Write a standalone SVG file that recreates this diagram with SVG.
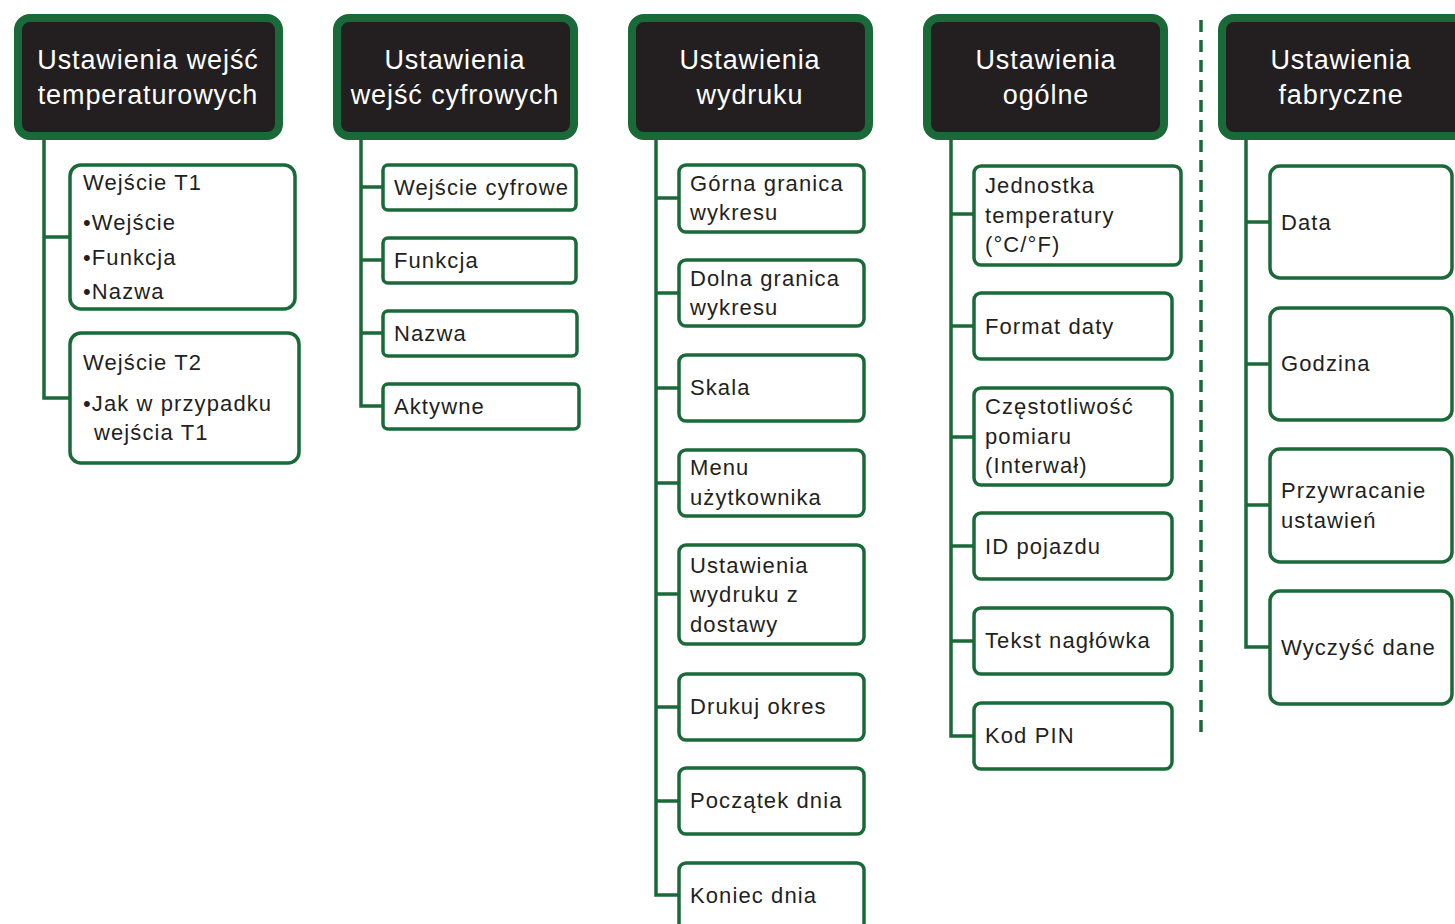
<svg xmlns="http://www.w3.org/2000/svg" width="1455" height="924" viewBox="0 0 1455 924">
<style>
.hd{fill:#231f20;stroke:#1a6a39;stroke-width:8}
.bx{fill:#fff;stroke:#1a6a39;stroke-width:3.5}
.ln{stroke:#1a6a39;stroke-width:3.5;fill:none}
.ht{font-family:"Liberation Sans",Arial,sans-serif;font-size:27px;fill:#fff;text-anchor:middle;letter-spacing:0.9px}
.t{font-family:"Liberation Sans",Arial,sans-serif;font-size:22px;fill:#231f20;letter-spacing:1.1px}
</style>
<rect width="1455" height="924" fill="#fff"/>
<g id="connectors">
<path class="ln" d="M44 138V398H70M44 237H70"/>
<path class="ln" d="M361 138V406H383M361 187H383M361 260H383M361 333H383"/>
<path class="ln" d="M656 138V895H679M656 198H679M656 293H679M656 388H679M656 483H679M656 594H679M656 707H679M656 801H679"/>
<path class="ln" d="M951 138V736H974M951 214H974M951 326H974M951 437H974M951 546H974M951 641H974"/>
<path class="ln" d="M1246 138V647H1270M1246 222H1270M1246 364H1270M1246 505H1270"/>
<path class="ln" d="M1201 20V736" stroke-dasharray="12 8"/>
</g>
<g id="h1"><rect class="hd" x="18" y="18" width="261" height="118" rx="12"/><text class="ht" x="148" y="69">Ustawienia wejść</text><text class="ht" x="148" y="104">temperaturowych</text></g>
<g id="h2"><rect class="hd" x="337" y="18" width="237" height="118" rx="12"/><text class="ht" x="455" y="69">Ustawienia</text><text class="ht" x="455" y="104">wejść cyfrowych</text></g>
<g id="h3"><rect class="hd" x="632" y="18" width="237" height="118" rx="12"/><text class="ht" x="750" y="69">Ustawienia</text><text class="ht" x="750" y="104">wydruku</text></g>
<g id="h4"><rect class="hd" x="927" y="18" width="237" height="118" rx="12"/><text class="ht" x="1046" y="69">Ustawienia</text><text class="ht" x="1046" y="104">ogólne</text></g>
<g id="h5"><rect class="hd" x="1222" y="18" width="250" height="118" rx="12"/><text class="ht" x="1341" y="69">Ustawienia</text><text class="ht" x="1341" y="104">fabryczne</text></g>

<g id="c1a"><rect class="bx" x="70" y="165" width="225" height="144" rx="11"/><text class="t" x="83" y="190">Wejście T1</text><text class="t" x="83" y="230">•Wejście</text><text class="t" x="83" y="265">•Funkcja</text><text class="t" x="83" y="299">•Nazwa</text></g>
<g id="c1b"><rect class="bx" x="70" y="333" width="229" height="130" rx="11"/><text class="t" x="83" y="370">Wejście T2</text><text class="t" x="83" y="411">•Jak w przypadku</text><text class="t" x="94" y="440">wejścia T1</text></g>

<g id="c2a"><rect class="bx" x="383" y="165" width="193" height="45" rx="5"/><text class="t" x="394" y="195">Wejście cyfrowe</text></g>
<g id="c2b"><rect class="bx" x="383" y="238" width="193" height="45" rx="5"/><text class="t" x="394" y="268">Funkcja</text></g>
<g id="c2c"><rect class="bx" x="383" y="311" width="194" height="45" rx="5"/><text class="t" x="394" y="341">Nazwa</text></g>
<g id="c2d"><rect class="bx" x="383" y="384" width="196" height="45" rx="5"/><text class="t" x="394" y="414">Aktywne</text></g>

<g id="c3a"><rect class="bx" x="679" y="165" width="185" height="67" rx="7"/><text class="t" x="690" y="191">Górna granica</text><text class="t" x="690" y="220">wykresu</text></g>
<g id="c3b"><rect class="bx" x="679" y="260" width="185" height="66" rx="7"/><text class="t" x="690" y="286">Dolna granica</text><text class="t" x="690" y="315">wykresu</text></g>
<g id="c3c"><rect class="bx" x="679" y="355" width="185" height="66" rx="7"/><text class="t" x="690" y="395">Skala</text></g>
<g id="c3d"><rect class="bx" x="679" y="450" width="185" height="66" rx="7"/><text class="t" x="690" y="475">Menu</text><text class="t" x="690" y="505">użytkownika</text></g>
<g id="c3e"><rect class="bx" x="679" y="545" width="185" height="99" rx="7"/><text class="t" x="690" y="573">Ustawienia</text><text class="t" x="690" y="602">wydruku z</text><text class="t" x="690" y="632">dostawy</text></g>
<g id="c3f"><rect class="bx" x="679" y="674" width="185" height="66" rx="7"/><text class="t" x="690" y="714">Drukuj okres</text></g>
<g id="c3g"><rect class="bx" x="679" y="768" width="185" height="66" rx="7"/><text class="t" x="690" y="808">Początek dnia</text></g>
<g id="c3h"><rect class="bx" x="679" y="863" width="185" height="70" rx="7"/><text class="t" x="690" y="903">Koniec dnia</text></g>

<g id="c4a"><rect class="bx" x="974" y="166" width="207" height="99" rx="7"/><text class="t" x="985" y="193">Jednostka</text><text class="t" x="985" y="223">temperatury</text><text class="t" x="985" y="252">(°C/°F)</text></g>
<g id="c4b"><rect class="bx" x="974" y="293" width="198" height="66" rx="7"/><text class="t" x="985" y="334">Format daty</text></g>
<g id="c4c"><rect class="bx" x="974" y="388" width="198" height="97" rx="7"/><text class="t" x="985" y="414">Częstotliwość</text><text class="t" x="985" y="444">pomiaru</text><text class="t" x="985" y="473">(Interwał)</text></g>
<g id="c4d"><rect class="bx" x="974" y="513" width="198" height="66" rx="7"/><text class="t" x="985" y="554">ID pojazdu</text></g>
<g id="c4e"><rect class="bx" x="974" y="608" width="198" height="66" rx="7"/><text class="t" x="985" y="648">Tekst nagłówka</text></g>
<g id="c4f"><rect class="bx" x="974" y="703" width="198" height="66" rx="7"/><text class="t" x="985" y="743">Kod PIN</text></g>

<g id="c5a"><rect class="bx" x="1270" y="166" width="182" height="112" rx="10"/><text class="t" x="1281" y="230">Data</text></g>
<g id="c5b"><rect class="bx" x="1270" y="308" width="182" height="112" rx="10"/><text class="t" x="1281" y="371">Godzina</text></g>
<g id="c5c"><rect class="bx" x="1270" y="449" width="182" height="113" rx="10"/><text class="t" x="1281" y="498">Przywracanie</text><text class="t" x="1281" y="528">ustawień</text></g>
<g id="c5d"><rect class="bx" x="1270" y="591" width="182" height="113" rx="10"/><text class="t" x="1281" y="655">Wyczyść dane</text></g>
</svg>
